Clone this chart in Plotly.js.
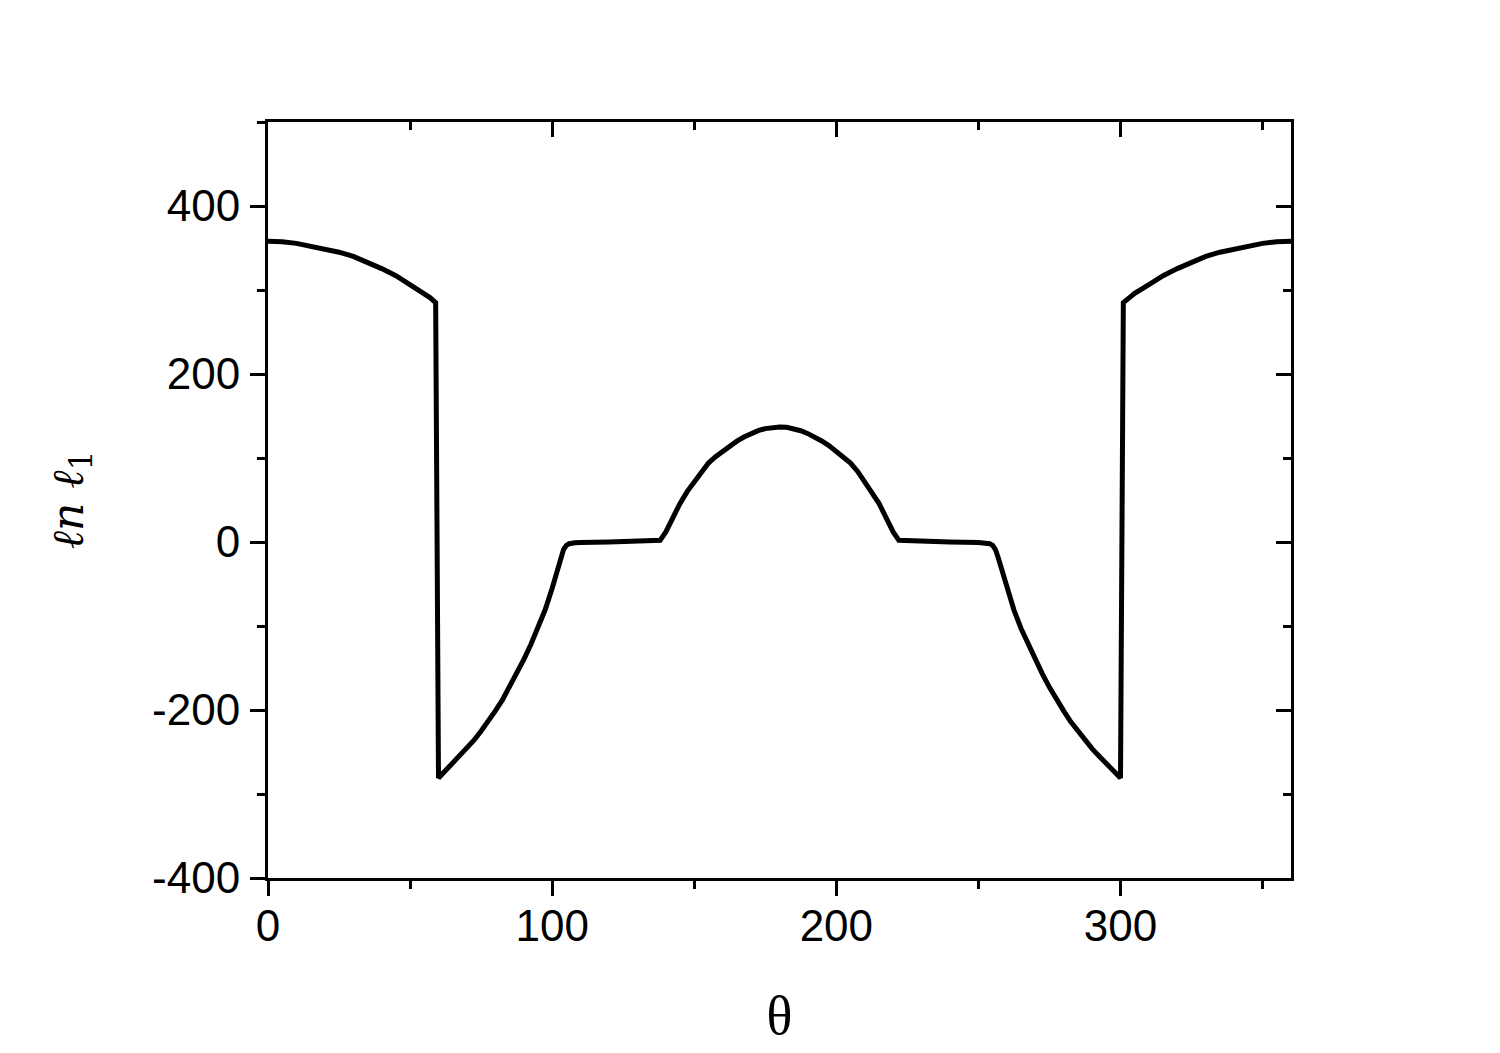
<!DOCTYPE html>
<html>
<head>
<meta charset="utf-8">
<script src="https://cdn.plot.ly/plotly-3.0.1.min.js"></script>
<style>html,body{margin:0;padding:0;background:#fff;}#chart{width:1500px;height:1053px;}</style>
</head>
<body>
<div id="chart"></div>
<script>
// θ (degrees) and ℓn ℓ1 values
const theta = [0, 5, 10, 15, 20, 25, 30, 35, 40, 45, 50, 55, 57, 59,
  60, 62.5, 65, 67.5, 70, 72.5, 75, 77.5, 80, 82.5, 85, 87.5, 90, 92.5, 95, 97.5, 100, 102, 103, 104, 105, 106, 108, 110, 120, 130, 138,
  140, 141, 142, 143.5, 145, 147.5, 150, 152.5, 155, 157.5, 160, 162.5, 165, 167.5, 170, 172.5, 175, 177.5, 180,
  182.5, 185, 187.5, 190, 192.5, 195, 197.5, 200, 202.5, 205, 207.5, 210, 212.5, 215, 216.5, 218, 219, 220, 222,
  230, 240, 250, 252, 254, 255, 256, 257, 258, 260, 262.5, 265, 267.5, 270, 272.5, 275, 277.5, 280, 282.5, 285, 287.5, 290, 292.5, 295, 297.5, 300,
  301, 303, 305, 310, 315, 320, 325, 330, 335, 340, 345, 350, 355, 360];
const lnl1 = [358, 357.5, 355.5, 352.5, 349, 345, 340, 333, 325.5, 317, 306.5, 296, 291, 285,
  -281, -272, -263, -255, -246, -236, -225, -214, -201, -188, -173, -157, -140, -122, -103, -81, -55, -31, -19, -9, -4, -2, -1, -0.5, 0, 0.5, 2,
  12, 19, 26, 36, 46, 60, 72, 84, 94, 101.5, 108, 114.5, 120, 125, 129, 132.5, 135, 136.5, 137,
  136.5, 135, 132.5, 129, 125, 120, 114.5, 108, 101.5, 94, 84, 72, 60, 46, 36, 26, 19, 12, 2,
  0.5, 0, -0.5, -1, -2, -4, -9, -19, -31, -55, -81, -103, -122, -140, -157, -173, -188, -201, -214, -225, -236, -246, -255, -263, -272, -281,
  285, 291, 296, 306.5, 317, 325.5, 333, 340, 345, 349, 352.5, 355.5, 357.5, 358];

const xTickVals = [0, 100, 200, 300];
const xTickText = ['0', '100', '200', '300'];
const yTickVals = [-400, -200, 0, 200, 400];
const yTickText = ['-400', '-200', '0', '200', '400'];

const tickFont = {family: 'Liberation Sans, Arial, sans-serif', size: 44, color: '#000'};

const traces = [
  {x: theta, y: lnl1, type: 'scatter', mode: 'lines',
   line: {color: '#000', width: 5}, hoverinfo: 'skip', showlegend: false},
  {x: theta, y: lnl1, type: 'scatter', mode: 'lines', xaxis: 'x2', yaxis: 'y2',
   line: {color: 'rgba(0,0,0,0)', width: 0}, hoverinfo: 'skip', showlegend: false}
];

const layout = {
  width: 1500, height: 1053,
  margin: {l: 268, r: 209, t: 122, b: 175},
  paper_bgcolor: '#fff', plot_bgcolor: '#fff',
  showlegend: false,
  xaxis: {
    range: [0, 360], tickmode: 'array', tickvals: xTickVals, ticktext: xTickText,
    ticks: 'outside', ticklen: 15, tickwidth: 3, tickcolor: '#000',
    minor: {ticks: 'outside', ticklen: 8, tickwidth: 3, tickcolor: '#000', dtick: 50, tick0: 0, showgrid: false},
    showline: true, linewidth: 3, linecolor: '#000', mirror: true,
    showgrid: false, zeroline: false, tickfont: tickFont, ticklabelstandoff: -8,
    title: {text: 'θ', font: {family: 'Liberation Serif, Times New Roman, serif', size: 54, color: '#000'}, standoff: 48}
  },
  yaxis: {
    range: [-400, 500], tickmode: 'array', tickvals: yTickVals, ticktext: yTickText,
    ticks: 'outside', ticklen: 15, tickwidth: 3, tickcolor: '#000',
    minor: {ticks: 'outside', ticklen: 8, tickwidth: 3, tickcolor: '#000', dtick: 100, tick0: 0, showgrid: false},
    showline: true, linewidth: 3, linecolor: '#000', mirror: true,
    showgrid: false, zeroline: false, tickfont: tickFont, ticklabelstandoff: 1,
    title: {text: '<i>ℓn ℓ</i><sub>1</sub>', font: {family: 'DejaVu Serif, serif', size: 44, color: '#000'}, standoff: 55}
  },
  xaxis2: {
    overlaying: 'x', side: 'top', anchor: 'y2', range: [0, 360],
    tickmode: 'array', tickvals: xTickVals,
    ticks: 'inside', ticklen: 15, tickwidth: 3, tickcolor: '#000',
    minor: {ticks: 'inside', ticklen: 8, tickwidth: 3, tickcolor: '#000', dtick: 50, tick0: 0, showgrid: false},
    showticklabels: false, showline: false, showgrid: false, zeroline: false
  },
  yaxis2: {
    overlaying: 'y', side: 'right', anchor: 'x2', range: [-400, 500],
    tickmode: 'array', tickvals: yTickVals,
    ticks: 'inside', ticklen: 15, tickwidth: 3, tickcolor: '#000',
    minor: {ticks: 'inside', ticklen: 8, tickwidth: 3, tickcolor: '#000', dtick: 100, tick0: 0, showgrid: false},
    showticklabels: false, showline: false, showgrid: false, zeroline: false
  }
};

Plotly.newPlot('chart', traces, layout, {displayModeBar: false, staticPlot: true});
</script>
</body>
</html>
